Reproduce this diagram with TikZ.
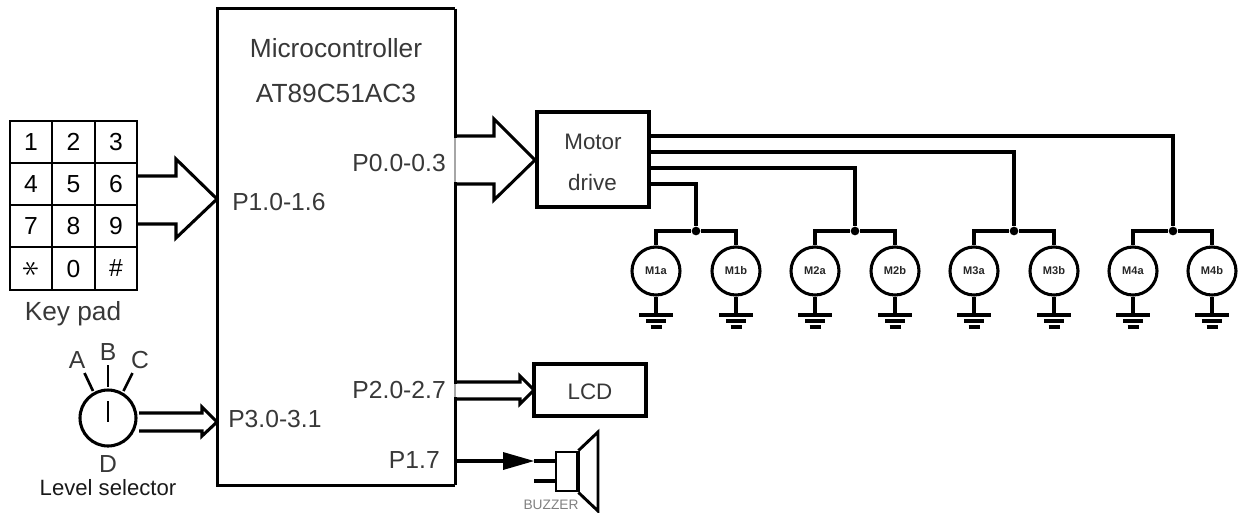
\documentclass[tikz,border=0pt]{standalone}
\usepackage{fontspec}
\usepackage{graphicx}
\setmainfont{Liberation Sans}
\usetikzlibrary{calc}
\newcommand{\txtsize}{\fontsize{18.5}{22}\selectfont}
\newcommand{\bigsize}{\fontsize{19.7}{23}\selectfont}
\newcommand{\midsize}{\fontsize{16.8}{20}\selectfont}
\tikzset{
  x=0.75pt,y=-0.75pt,
  wire/.style={draw=black,line width=2.3pt,line cap=butt,line join=miter},
  thinwire/.style={draw=black,line width=2pt,line cap=butt,line join=miter},
  blockbox/.style={draw=black,line width=2.3pt,rectangle,inner sep=0pt,fill=white},
  keycell/.style={draw=black,line width=1.6pt,rectangle,inner sep=0pt,minimum width=31.9pt,minimum height=31.9pt,font=\txtsize},
  lbl/.style={inner sep=0pt,font=\txtsize,text=black!78},
  keytxt/.style={inner sep=0pt,font=\txtsize},
  motorc/.style={draw=black,line width=2.3pt,circle,inner sep=0pt,minimum size=36pt,font=\bfseries\fontsize{8.3}{9}\selectfont,text=black!85},
  junction/.style={circle,fill=black,inner sep=0pt,minimum size=6.5pt},
}
\begin{document}
\begin{tikzpicture}
\useasboundingbox (0,0) rectangle (1239,512);
% boxes
\node[minimum width=177.75pt,minimum height=357pt,inner sep=0pt] (mcu) at (336.5,247) {};
\draw[wire] (mcu.north east) -- (mcu.north west) -- (mcu.south west) -- (mcu.south east);
\draw[draw=black,line width=2pt] (mcu.north east) -- (mcu.south east);
\node[blockbox,minimum width=84pt,minimum height=71.25pt] (motor) at (593,159.5) {};
\node[blockbox,minimum width=84pt,minimum height=39pt] (lcd) at (590,390) {};
\node[lbl,font=\bigsize] (t1) at (336,48) {Microcontroller};
\node[lbl,font=\bigsize] (t2) at (336,93) {AT89C51AC3};
\node[lbl,anchor=east] (p0) at (446,163) {P0.0-0.3};
\node[lbl,anchor=west] (p1) at (232,202) {P1.0-1.6};
\node[lbl,anchor=east] (p2) at (446,390) {P2.0-2.7};
\node[lbl,anchor=west] (p3) at (228,419) {P3.0-3.1};
\node[lbl,anchor=east] (p17) at (440,460) {P1.7};
\node[lbl,font=\midsize] (tm1) at (593,142) {Motor};
\node[lbl,font=\midsize] (tm2) at (592.5,182) {drive};
\node[lbl,font=\midsize] (tl) at (590,392) {LCD};
% keypad
\foreach \n/\t/\cx/\cy in {k1/1/31/142,k2/2/73.5/142,k3/3/116/142,
  k4/4/31/184,k5/5/73.5/184,k6/6/116/184,
  k7/7/31/226,k8/8/73.5/226,k9/9/116/226,
  kx/{\rotatebox{90}{\scalebox{1.5}{$\ast$}}}/31/268.5,k0/0/73.5/268.5,kh/\#/116/268.5}
  \node[keycell] (\n) at (\cx,\cy) {\t};
\node[lbl,font=\bigsize] (kp) at (73,314) {Key pad};
% keypad arrow
\coordinate (ka) at (137,176);
\coordinate (kb) at (137,224);
\coordinate (ktip) at (217,199);
\draw[wire] (ka) -- (176,176) -- (176,159) -- (ktip) -- (176,238) -- (176,224) -- (kb);
% selector
\node[draw=black,line width=2.3pt,circle,inner sep=0pt,minimum size=42pt] (sel) at (108,418) {};
\coordinate (bt) at (108,365);
\coordinate (at) at (84.5,373);
\coordinate (ct) at (132.5,373);
\coordinate (in1) at (108,401);
\coordinate (in2) at (108,422);
\draw[thinwire] (bt) -- (108,387);
\draw[thinwire] (at) -- (93,391);
\draw[thinwire] (ct) -- (123.5,391);
\draw[thinwire] (in1) -- (in2);
\node[lbl] (la) at (77,360) {A};
\node[lbl] (lb) at (108,352) {B};
\node[lbl] (lc) at (140,360) {C};
\node[lbl] (ld) at (108,464) {D};
\node[lbl,text=black!90,font=\fontsize{16.6}{19}\selectfont] (ls) at (108,488) {Level selector};
% selector arrow
\coordinate (sa) at (139,413);
\coordinate (sb) at (139,431);
\coordinate (stip) at (217,422);
\draw[wire] (sa) -- (202,413) -- (202,407) -- (stip) -- (202,436) -- (202,431) -- (sb);
% motor-drive arrow
\coordinate (ma) at (455,136);
\coordinate (mb) at (455,184);
\coordinate (mtip) at (535,160);
\draw[wire] (ma) -- (494,136) -- (494,119) -- (mtip) -- (494,200) -- (494,184) -- (mb);
% LCD arrow
\coordinate (la1) at (455,382);
\coordinate (lb1) at (455,399);
\coordinate (ltip) at (534,390);
\draw[wire] (la1) -- (520,382) -- (520,376) -- (ltip) -- (520,404) -- (520,399) -- (lb1);
% gaps in the controller wall at the block arrows
\draw[draw=white,line width=2.6pt] (455,138) -- (455,182);
\draw[draw=black!35,line width=1pt] (455,138) -- (455,182);
\draw[draw=white,line width=2.6pt] (455,384) -- (455,397);
\draw[draw=black!35,line width=1pt] (455,384) -- (455,397);
% buzzer
\coordinate (bz0) at (455,461);
\coordinate (bz1) at (503,461);
\coordinate (bz2) at (534,461);
\coordinate (bz3) at (556,461);
\coordinate (bz4) at (534,481);
\coordinate (bz5) at (556,481);
\draw[wire] (bz0) -- (bz1);
\fill[black] (503,452) -- (bz2) -- (503,470) -- cycle;
\draw[wire] (bz2) -- (bz3);
\draw[wire] (bz4) -- (bz5);
\node[draw=black,line width=2.2pt,rectangle,inner sep=0pt,minimum width=15.75pt,minimum height=29.25pt] (bzbox) at (566.5,471.5) {};
\draw[line width=2.6pt] (bzbox.north east) -- (bzbox.south east);
\draw[line width=2.2pt,line join=miter] (bzbox.north east) -- (598,432) -- (598,511) -- (bzbox.south east);
\node[inner sep=0pt,font=\fontsize{10.3}{12}\selectfont,text=black!50] (bz) at (551,505) {BUZZER};
% motors
\foreach \nm/\cxa/\cxb/\jx/\ly/\ma/\mb in {a/656/736/696/184/M1a/M1b,b/815/895/855/168/M2a/M2b,c/974/1054/1014/152/M3a/M3b,d/1133/1212/1173/136/M4a/M4b}{
  \node[motorc] (\nm1) at (\cxa,271) {\ma};
  \node[motorc] (\nm2) at (\cxb,271) {\mb};
  \node[junction] (j\nm) at (\jx,231) {};
  \coordinate (s\nm) at (649,\ly);
  \draw[wire] (s\nm) -| (j\nm);
  \draw[wire] (\nm1.north) |- (j\nm);
  \draw[wire] (\nm2.north) |- (j\nm);
  \foreach \m/\c in {\nm1/\cxa,\nm2/\cxb}{
    \coordinate (g\m) at (\c,315);
    \draw[wire] (\m.south) -- (g\m);
    \draw[wire] ($(g\m)+(-17,0)$) -- ($(g\m)+(17,0)$);
    \draw[wire] ($(g\m)+(-10,6)$) -- ($(g\m)+(10,6)$);
    \draw[wire] ($(g\m)+(-5.5,12)$) -- ($(g\m)+(5.5,12)$);
  }
}
\end{tikzpicture}
\end{document}
